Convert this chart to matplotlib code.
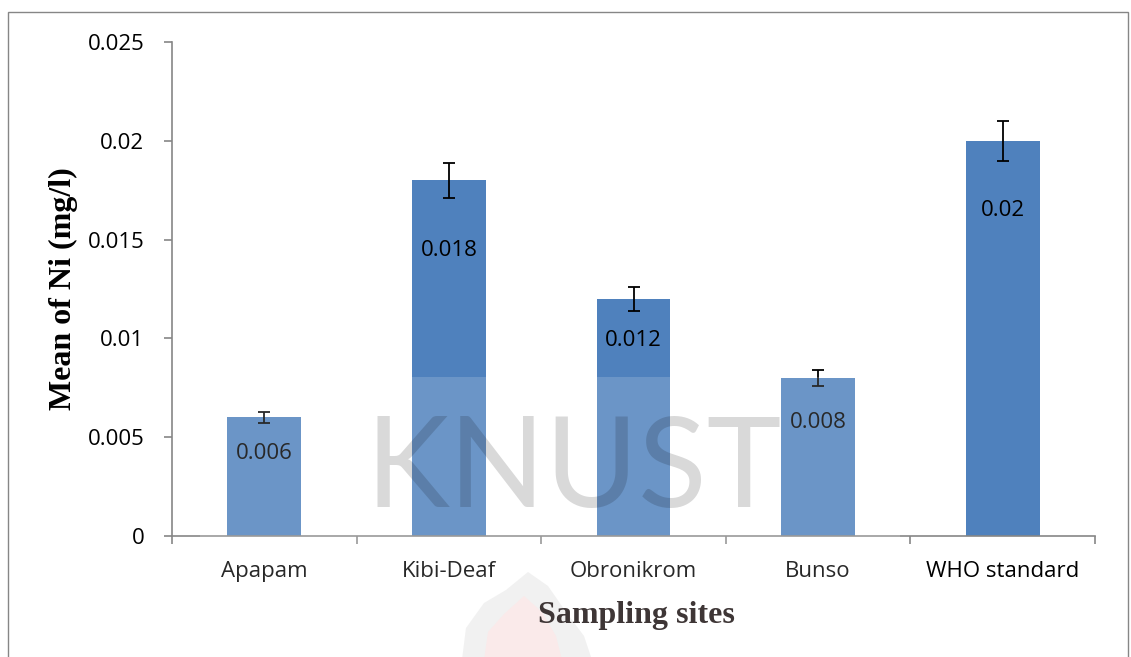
import matplotlib
matplotlib.use('Agg')
import matplotlib.pyplot as plt
import numpy as np
from matplotlib.patches import Rectangle, Polygon

sites = ['Apapam', 'Kibi-Deaf', 'Obronikrom', 'Bunso', 'WHO standard']
ni_mean = [0.006, 0.018, 0.012, 0.008, 0.02]
ni_err = [0.0003, 0.0009, 0.0006, 0.0004, 0.001]
value_labels = ['0.006', '0.018', '0.012', '0.008', '0.02']
yticks = [0, 0.005, 0.01, 0.015, 0.02, 0.025]
ytick_labels = ['0', '0.005', '0.01', '0.015', '0.02', '0.025']

# how far below the bar top each value label sits (pixels)
label_drop = [36, 70, 42, 45, 70]

W, H = 1131, 657
fig = plt.figure(figsize=(W / 100, H / 100), dpi=100)
ax = fig.add_axes([172 / W, 1 - 536 / H, (1095 - 172) / W, (536 - 42) / H])

x = np.arange(len(sites))
ax.bar(x, ni_mean, width=0.4, color='#4F81BD', zorder=2)
ax.errorbar(x, ni_mean, yerr=ni_err, fmt='none', ecolor='black',
            elinewidth=1.3, capsize=4.5, capthick=1.3, zorder=3)

for xi, v, lab, d in zip(x, ni_mean, value_labels, label_drop):
    ax.annotate(lab, (xi, v), xytext=(0, -d), textcoords='offset pixels',
                ha='center', va='center', fontsize=16, family='Open Sans',
                color='black', zorder=4)

ax.set_xlim(-0.5, len(sites) - 0.5)
ax.set_ylim(0, 0.025)
ax.set_yticks(yticks)
ax.set_yticklabels(ytick_labels, family='Open Sans', fontsize=16)
ax.set_xticks(x)
ax.set_xticklabels(sites, family='Open Sans', fontsize=16)
ax.set_xticks(np.arange(-0.5, len(sites)), minor=True)
ax.tick_params(axis='x', which='major', length=0, pad=18)
ax.tick_params(axis='x', which='minor', length=6, color='#868686', width=1.2)
ax.tick_params(axis='y', length=6, color='#868686', width=1.2, pad=14)

for s in ['top', 'right']:
    ax.spines[s].set_visible(False)
for s in ['left', 'bottom']:
    ax.spines[s].set_color('#868686')
    ax.spines[s].set_linewidth(1.2)

ax.set_ylabel('Mean of Ni (mg/l)', family='Liberation Serif', fontweight='bold',
              fontsize=23)
ax.set_xlabel('Sampling sites', family='Liberation Serif', fontweight='bold',
              fontsize=23, color='#1a1010')
ax.yaxis.set_label_coords((78 - 172) / 923, 0.5)
ax.xaxis.set_label_coords((636 - 172) / 923, (536 - 601) / 494)

# outer frame
fig.add_artist(Rectangle((8 / W, -0.01), (1128 - 8) / W, 1 - 12 / H + 0.01,
                         transform=fig.transFigure, fill=False,
                         edgecolor='#868686', linewidth=1.0))

# watermark: faint flame below the axis
def fig_pts(pts):
    return [(px / W, 1 - py / H) for px, py in pts]

flame_out = [(462, 660), (466, 628), (484, 603), (506, 590), (528, 572),
             (548, 586), (566, 612), (584, 636), (592, 660)]
flame_in = [(484, 660), (488, 632), (504, 614), (524, 596), (542, 612),
            (556, 636), (562, 660)]
fig.add_artist(Polygon(fig_pts(flame_out), closed=True, transform=fig.transFigure,
                       facecolor='#efefef', edgecolor='none', zorder=0))
fig.add_artist(Polygon(fig_pts(flame_in), closed=True, transform=fig.transFigure,
                       facecolor='#fae6e6', edgecolor='none', zorder=0))

# watermark: light veil and KNUST text
fig.add_artist(Rectangle((200 / W, 0), 700 / W, 1 - 377 / H,
                         transform=fig.transFigure, facecolor='white',
                         alpha=0.16, edgecolor='none', zorder=5))
fig.text(574 / W, 1 - 472 / H, 'KNUST', ha='center', va='center',
         fontsize=91, family='Lato', fontweight='normal', color='black',
         alpha=0.15, zorder=6)

fig.savefig('out.png', dpi=100)
